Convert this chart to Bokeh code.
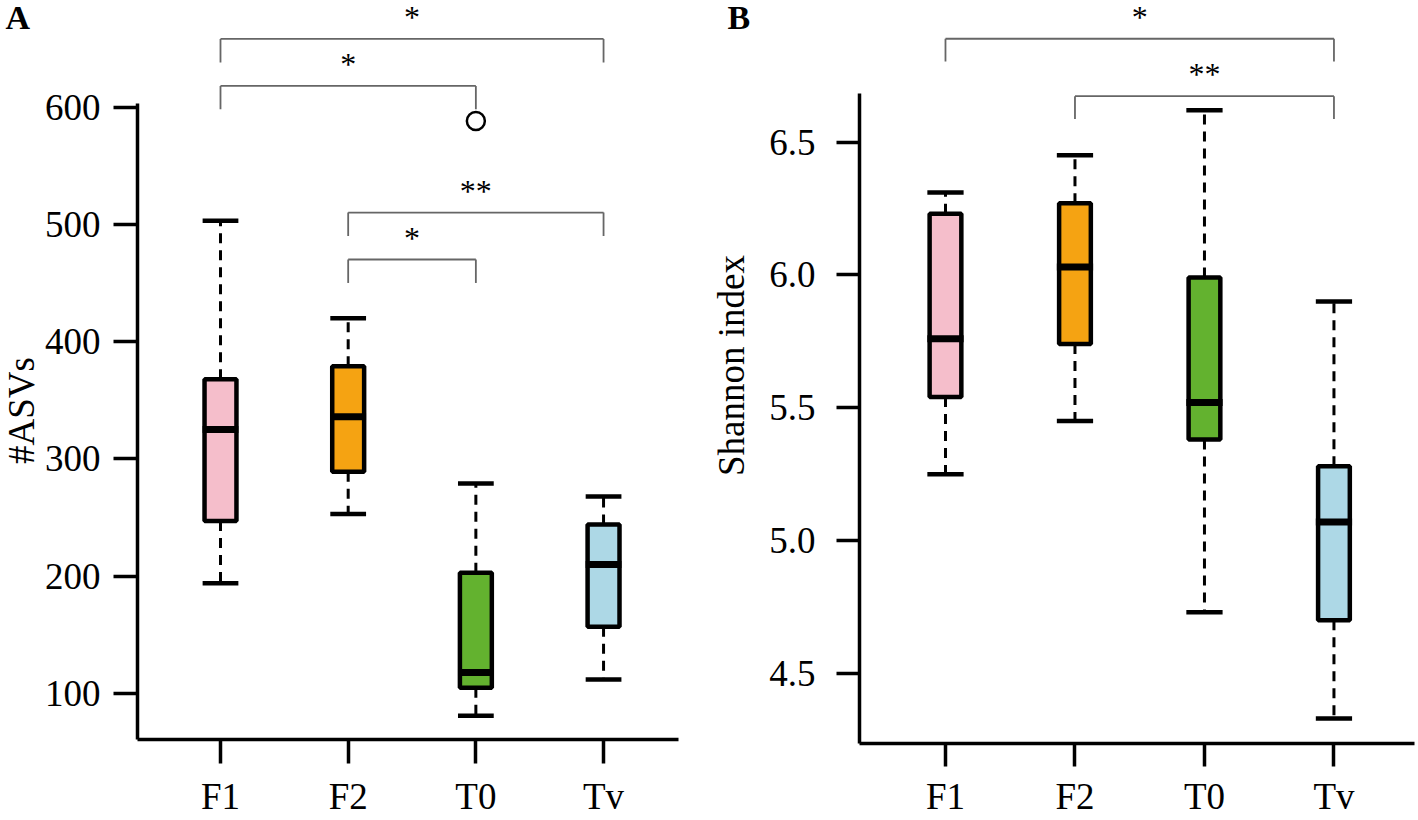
import math
from bokeh.plotting import figure
from bokeh.models import FixedTicker, Range1d, PrintfTickFormatter, GridBox
from bokeh.embed import file_html
from bokeh.resources import INLINE
from bokeh.core.properties import value

# ---------------- data ----------------
categories = ["F1", "F2", "T0", "Tv"]
box_colors = ["#F5BECB", "#F5A312", "#63B22F", "#ADD8E6"]

# Panel A: number of ASVs
asv_lower_whisker = [194, 253, 81, 112]
asv_q1 = [247, 289, 105, 157]
asv_median = [325, 336, 118, 210]
asv_q3 = [368, 379, 203, 244]
asv_upper_whisker = [503, 420, 279, 268]
asv_outlier_cat = ["T0"]
asv_outlier_val = [588]
asv_ticks = [100, 200, 300, 400, 500, 600]

asv_bracket_from = ["F1", "F1", "F2", "F2"]
asv_bracket_to = ["Tv", "T0", "Tv", "T0"]
asv_bracket_label = ["*", "*", "**", "*"]
asv_bracket_level = [658, 618, 510, 470]

# Panel B: Shannon index
sh_lower_whisker = [5.25, 5.45, 4.73, 4.33]
sh_q1 = [5.54, 5.74, 5.38, 4.70]
sh_median = [5.76, 6.03, 5.52, 5.07]
sh_q3 = [6.23, 6.27, 5.99, 5.28]
sh_upper_whisker = [6.31, 6.45, 6.62, 5.90]
sh_ticks = [4.5, 5.0, 5.5, 6.0, 6.5]

sh_bracket_from = ["F1", "F2"]
sh_bracket_to = ["Tv", "Tv"]
sh_bracket_label = ["*", "**"]
sh_bracket_level = [6.889, 6.673]

# titles / panel letters
panel_letters = ["A", "B"]
y_titles = ["#ASVs", "Shannon index"]

FONT = "Liberation Serif"
xpos = [i + 1 for i in range(len(categories))]
pos = dict(zip(categories, xpos))


def style_axes(p, ystandoff, xstandoff, tick_out):
    p.xgrid.visible = False
    p.ygrid.visible = False
    p.outline_line_color = None
    p.background_fill_color = "white"
    p.border_fill_color = "white"
    for ax in (p.xaxis[0], p.yaxis[0]):
        ax.axis_line_width = 3.5
        ax.axis_line_color = "black"
        ax.major_tick_line_width = 3.5
        ax.major_tick_line_color = "black"
        ax.major_tick_out = tick_out
        ax.major_tick_in = 0
        ax.minor_tick_line_color = None
        ax.major_label_text_font = FONT
        ax.major_label_text_font_size = "37px"
        ax.major_label_text_color = "black"
    p.yaxis[0].major_label_standoff = ystandoff
    p.xaxis[0].major_label_standoff = xstandoff
    p.xaxis[0].ticker = FixedTicker(ticks=xpos)
    p.xaxis[0].major_label_overrides = {x: c for x, c in zip(xpos, categories)}


def draw_boxes(p, lw, q1, med, q3, uw, box_w, cap_half):
    p.segment(x0=xpos, y0=q3, x1=xpos, y1=uw, line_color="black", line_width=3,
              line_dash="10 7")
    p.segment(x0=xpos, y0=q1, x1=xpos, y1=lw, line_color="black", line_width=3,
              line_dash="10 7")
    x_lo = [x - cap_half for x in xpos]
    x_hi = [x + cap_half for x in xpos]
    p.segment(x0=x_lo, y0=uw, x1=x_hi, y1=uw, line_color="black", line_width=4.5)
    p.segment(x0=x_lo, y0=lw, x1=x_hi, y1=lw, line_color="black", line_width=4.5)
    p.vbar(x=xpos, bottom=q1, top=q3, width=box_w, fill_color=box_colors,
           line_color="black", line_width=4.5)
    p.segment(x0=x_lo, y0=med, x1=x_hi, y1=med, line_color="black", line_width=7)


def draw_brackets(p, frm, to, labels, levels, drop):
    x0s, y0s, x1s, y1s = [], [], [], []
    tx, ty = [], []
    for a, b, lev in zip(frm, to, levels):
        xa, xb = pos[a], pos[b]
        x0s += [xa, xa, xb]
        x1s += [xb, xa, xb]
        y0s += [lev, lev, lev]
        y1s += [lev, lev - drop, lev - drop]
        tx.append((xa + xb) / 2)
        ty.append(lev)
    p.segment(x0=x0s, y0=y0s, x1=x1s, y1=y1s, line_color="#666666", line_width=1.8)
    p.text(x=tx, y=ty, text=labels, text_font=value(FONT), text_font_size="32px",
           text_align="center", text_baseline="alphabetic", y_offset=-22,
           text_color="black")


# ---------------- Panel A ----------------
pA = figure(width=700, height=820, x_range=Range1d(0.35, 4.587),
            y_range=Range1d(60.8, 690.8), output_backend="svg",
            toolbar_location=None, min_border_left=137, min_border_right=22,
            min_border_top=0, min_border_bottom=81, frame_align=False)
style_axes(pA, ystandoff=13, xstandoff=12, tick_out=24)
pA.yaxis[0].ticker = FixedTicker(ticks=asv_ticks)
pA.yaxis[0].bounds = (60.8, 603)
draw_boxes(pA, asv_lower_whisker, asv_q1, asv_median, asv_q3, asv_upper_whisker,
           box_w=0.25, cap_half=0.14)
pA.scatter(x=[pos[c] for c in asv_outlier_cat], y=asv_outlier_val, marker="circle",
           size=18, fill_color="white", line_color="black", line_width=2.5)
draw_brackets(pA, asv_bracket_from, asv_bracket_to, asv_bracket_label,
              asv_bracket_level, drop=20)

# ---------------- Panel B ----------------
pB = figure(width=718, height=820, x_range=Range1d(0.336, 4.622),
            y_range=Range1d(4.236, 7.033), output_backend="svg",
            toolbar_location=None, min_border_left=159, min_border_right=4,
            min_border_top=0, min_border_bottom=77, frame_align=False)
style_axes(pB, ystandoff=21, xstandoff=9, tick_out=23)
pB.yaxis[0].ticker = FixedTicker(ticks=sh_ticks)
pB.yaxis[0].formatter = PrintfTickFormatter(format="%.1f")
pB.yaxis[0].bounds = (4.236, 6.684)
draw_boxes(pB, sh_lower_whisker, sh_q1, sh_median, sh_q3, sh_upper_whisker,
           box_w=0.245, cap_half=0.14)
draw_brackets(pB, sh_bracket_from, sh_bracket_to, sh_bracket_label,
              sh_bracket_level, drop=0.086)

# ---------------- overlay for titles outside the plot frames (pixel space) ----------------
ov = figure(width=1418, height=820, x_range=Range1d(0, 1418), y_range=Range1d(820, 0),
            output_backend="svg", toolbar_location=None, min_border=0,
            x_axis_location=None, y_axis_location=None, frame_align=False)
ov.xgrid.visible = False
ov.ygrid.visible = False
ov.outline_line_color = None
ov.background_fill_color = None
ov.border_fill_color = None
ov.text(x=[5, 727], y=[17, 17], text=panel_letters, text_font=value(FONT),
        text_font_size="34px", text_font_style="bold", text_align="left",
        text_baseline="alphabetic", text_color="black")
ov.text(x=[21, 731], y=[410, 365], text=y_titles, text_font=value(FONT),
        text_font_size="37px", angle=math.pi / 2, text_align="center",
        text_baseline="alphabetic", text_color="black")

layout = GridBox(children=[(pA, 0, 0), (pB, 0, 1), (ov, 0, 0, 1, 2)])
open("out.html", "w").write(file_html(layout, INLINE))
